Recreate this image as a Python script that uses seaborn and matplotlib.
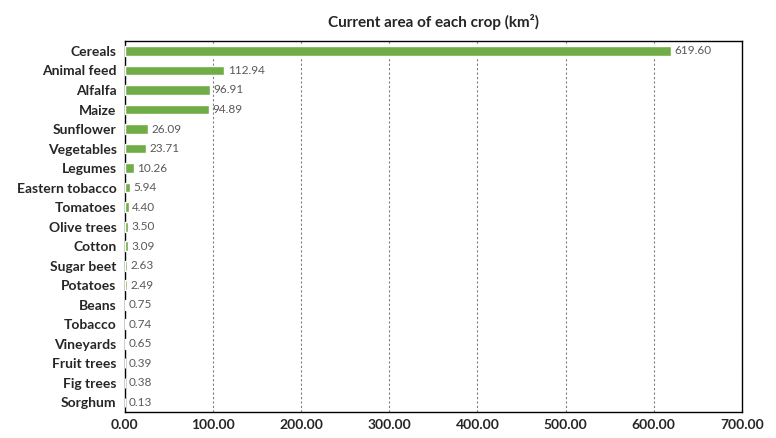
import pandas as pd
import matplotlib.pyplot as plt
import seaborn as sns

crops = ['Cereals', 'Animal feed', 'Alfalfa', 'Maize', 'Sunflower', 'Vegetables',
         'Legumes', 'Eastern tobacco', 'Tomatoes', 'Olive trees', 'Cotton',
         'Sugar beet', 'Potatoes', 'Beans', 'Tobacco', 'Vineyards', 'Fruit trees',
         'Fig trees', 'Sorghum']
area = [619.60, 112.94, 96.91, 94.89, 26.09, 23.71, 10.26, 5.94, 4.40, 3.50,
        3.09, 2.63, 2.49, 0.75, 0.74, 0.65, 0.39, 0.38, 0.13]
xticks = [0, 100, 200, 300, 400, 500, 600, 700]

sns.set_style('white')
plt.rcParams['font.family'] = ['Lato', 'DejaVu Sans']

df = pd.DataFrame({'crop': crops, 'area': area})

fig = plt.figure(figsize=(7.76, 4.38), dpi=100)
ax = fig.add_axes([0.161, 0.059, 0.795, 0.847])
sns.barplot(data=df, x='area', y='crop', color='#70AD47', width=0.5,
            saturation=1, ax=ax, zorder=3)

for i, v in enumerate(area):
    ax.text(v + 4, i, f'{v:.2f}', va='center', ha='left', fontsize=8.5, color='#595959')

ax.set_xlim(0, 700)
ax.set_xticks(xticks)
ax.set_xticklabels([f'{t:.2f}' for t in xticks], fontsize=10, fontweight='bold')
ax.tick_params(axis='x', pad=5, length=0)
ax.tick_params(axis='y', length=0, pad=6)
for lbl in ax.get_yticklabels():
    lbl.set_fontsize(10)
    lbl.set_fontweight('bold')
ax.set_xlabel('')
ax.set_ylabel('')
ax.xaxis.grid(True, linestyle=(0, (2, 2)), color='#7f7f7f', linewidth=0.8)
ax.set_axisbelow(True)
for s in ax.spines.values():
    s.set_visible(True)
    s.set_color('black')
    s.set_linewidth(1)
ax.set_title('Current area of each crop (km²)', fontsize=11, fontweight='bold', pad=10)

plt.savefig('out.png', dpi=100)
plt.close()
